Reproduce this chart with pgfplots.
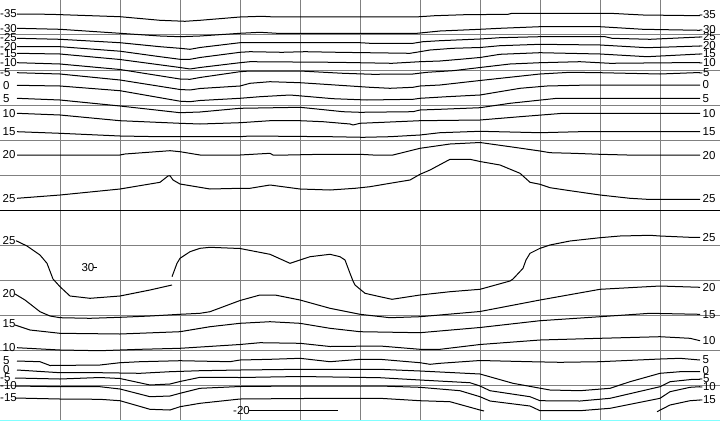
\documentclass[border=0pt]{standalone}
\usepackage{pgfplots}
\pgfplotsset{compat=1.18}
\usepackage{fontspec}
\setmainfont{Liberation Sans}
\definecolor{gridgray}{RGB}{128,128,128}
\definecolor{lcyan}{RGB}{128,255,255}
\tikzset{cl/.style={black, line width=1bp, line join=round},
  lab/.style={inner sep=0pt, font=\fontsize{11.5bp}{12bp}\selectfont}}
\begin{document}
\begin{tikzpicture}
\begin{axis}[scale only axis, width=720bp, height=421bp,
  xmin=0, xmax=720, ymin=0, ymax=421, y dir=reverse,
  axis line style={draw=none},
  xtick={60,120,180,240,300,360,420,480,540,600,660},
  ytick={35,70,105,140,175,245,280,315,350,385},
  xticklabels={}, yticklabels={}, major tick length=0pt,
  grid=major, grid style={gridgray, line width=1bp},
  clip=false]
% separators
\addplot[black, line width=1bp] coordinates {(0,210.5) (720,210.5)};
\addplot[lcyan, line width=1.5bp] coordinates {(0,420.5) (720,420.5)};
% ---------- top panel ----------
\addplot[cl] coordinates {(17,14) (50,14.3) (120,16.7) (160,20.3) (185,21.3) (200,20.3) (240,17) (262,16.3) (275,17) (415,17) (435,15.7) (465,14.7) (508,14.3) (512,13.3) (610,13.3) (643,15) (700,15.7)};
\addplot[cl] coordinates {(17,28.3) (60,29.3) (120,33.3) (160,36) (180,36.7) (200,36) (240,33.3) (260,32.3) (277,33.3) (417,33.3) (440,31) (480,29.3) (500,28.3) (540,26.7) (600,26.7) (643,29.3) (700,30.3)};
\addplot[cl] coordinates {(17,38.3) (60,39.3) (120,42.7) (160,46.7) (180,48.3) (190,49.3) (200,47.5) (240,42.7) (360,42.7) (370,43.3) (413,43.3) (423,41.7) (440,40.7) (480,39) (500,37.7) (540,36.7) (605,36.7) (612,38.3) (650,39.3) (700,37)};
\addplot[cl] coordinates {(17,46.7) (60,46.7) (120,51.2) (160,56.7) (180,59.3) (190,59.3) (200,57.5) (240,52.3) (250,51.7) (282,52.3) (305,51.7) (338,52.3) (410,53.3) (420,51.7) (430,50) (453,48.3) (480,47.5) (500,45.7) (540,44.3) (600,45) (647,47.7) (700,46)};
\addplot[cl] coordinates {(17,53.3) (60,54) (120,59.5) (180,67.5) (190,69) (200,67.5) (240,62.7) (250,61.7) (335,62.3) (392,63.3) (420,61.7) (440,61) (460,59.3) (480,57.5) (500,54.3) (540,52.7) (600,54) (647,56.7) (700,54)};
\addplot[cl] coordinates {(17,62.7) (60,64) (120,69.5) (180,79) (190,79.3) (200,77.5) (240,71.7) (250,71) (300,71) (343,73.3) (373,74.3) (413,74) (427,72.3) (453,70.7) (480,67.5) (510,64) (540,62.7) (580,61.7) (610,63.3) (700,62.5)};
\addplot[cl] coordinates {(17,72.7) (60,74) (120,80) (180,89.5) (190,90) (200,88.5) (240,86) (250,83.3) (270,81.7) (300,82.7) (320,84) (370,87.3) (390,88.3) (413,87.3) (420,86) (440,85) (480,80.5) (540,74) (570,72.3) (600,72.7) (660,74) (700,72.5)};
\addplot[cl] coordinates {(17,85.3) (60,86) (120,90.7) (180,101.2) (190,101.7) (200,100.5) (240,98.3) (260,96.7) (290,95) (310,96.7) (333,98.7) (367,100) (413,99.3) (420,98.3) (447,96.7) (480,95) (520,88.3) (547,86) (590,85) (700,85)};
\addplot[cl] coordinates {(17,98.3) (60,100) (120,106) (180,112.7) (200,112) (240,108.3) (300,107.3) (310,108.3) (343,111.7) (360,112.3) (413,111.7) (420,110) (440,109.3) (480,107.7) (510,103.3) (557,98.3) (700,98.3)};
\addplot[cl] coordinates {(17,113.3) (60,115) (120,120.7) (180,123.3) (200,124) (240,122.7) (270,120.7) (300,120.7) (323,121.7) (350,124) (353,125) (360,123.3) (420,120.7) (480,120) (520,116.7) (563,113.3) (700,113.3)};
\addplot[cl] coordinates {(17,131.7) (60,133.3) (120,136) (160,136.7) (240,136.7) (250,136) (330,136.7) (363,137.3) (390,136.7) (420,135) (440,132.7) (480,131.3) (540,132.7) (580,131.7) (700,131.7)};
\addplot[cl] coordinates {(17,155) (120,155) (125,154) (170,150.7) (180,151.7) (200,155) (240,155) (270,153.3) (273,155) (288,155) (322,154.3) (360,154.3) (373,155) (393,155) (420,148.3) (450,144) (480,142.5) (510,146.7) (540,151) (550,152.7) (573,153.3) (600,154.3) (627,155) (700,155)};
\addplot[cl] coordinates {(17,198.3) (60,195) (120,189) (160,182.3) (168,176) (170,175.7) (173,180) (180,184) (210,189) (240,188.3) (250,188.3) (270,185) (300,189) (330,190) (355,188.3) (370,186.7) (390,183.3) (410,180) (420,174.3) (430,170) (450,159.3) (470,159.3) (480,161.5) (500,165) (520,173.3) (530,182.3) (540,184.3) (550,187.7) (570,190.7) (600,195) (630,198.3) (647,199.3) (700,199.3)};
% ---------- bottom panel ----------
\addplot[cl] coordinates {(16,240.7) (27,246) (40,255) (47,263.3) (53,279) (60,286.7) (70,296) (90,298.3) (120,296) (150,290) (172,285)};
\addplot[cl] coordinates {(172,276.7) (177,263.3) (180,258.3) (190,251.7) (200,248.3) (210,247.3) (240,248.5) (270,254.3) (290,263.3) (300,260) (310,256.7) (330,254.3) (340,256.7) (345,260) (350,273.3) (353,281) (355,285) (365,293.3) (380,296.7) (392,299.3) (420,295) (450,291.7) (480,289.3) (510,281) (513,279) (523,268.3) (526,260) (530,253.3) (540,248.3) (550,245) (570,241) (600,237.7) (620,236) (650,235.3) (660,236) (690,237.3) (700,237.3)};
\addplot[cl] coordinates {(15,294) (25,300) (40,311.7) (50,316) (60,317.7) (90,318.3) (120,317.3) (150,316) (180,314.3) (200,313.3) (210,311.7) (240,300.5) (260,295) (275,295) (300,300) (330,308.3) (360,314.3) (390,317.7) (420,316.7) (480,311.5) (540,300) (600,289.3) (660,286) (700,287.3)};
\addplot[cl] coordinates {(15,325) (30,330) (60,333.3) (120,334) (180,331.7) (210,326.7) (240,323.3) (270,321.7) (300,323.3) (330,328.3) (360,331.7) (420,332.7) (480,327.5) (540,320.7) (600,316.7) (650,313.3) (700,314.3)};
\addplot[cl] coordinates {(17,347.7) (60,350) (100,350.7) (140,349.3) (180,348.3) (240,344.5) (260,342.7) (300,343.3) (330,346.5) (380,346) (420,349.3) (440,349.3) (480,344.5) (540,340) (600,338.3) (660,336.7) (690,338.3) (700,340.7)};
\addplot[cl] coordinates {(17,361) (40,361.7) (50,365.5) (100,365) (120,362.7) (140,361.7) (180,360.7) (230,361.7) (240,360) (270,359.3) (300,358.3) (330,361.7) (360,359.3) (380,359.3) (420,362.7) (430,364.3) (440,363.3) (480,360.5) (530,361.7) (560,362.3) (600,361.7) (660,359) (680,358.3) (700,360)};
\addplot[cl] coordinates {(17,370) (60,372.7) (100,372.7) (140,373.3) (170,371.7) (200,370.7) (240,370) (300,369.3) (380,369.3) (420,371) (480,374) (513,383.3) (550,390) (580,390.7) (610,388.3) (630,381.7) (660,373.3) (680,371.7) (700,371.7)};
\addplot[cl] coordinates {(15,378) (60,379) (100,377.5) (120,378.5) (150,385) (170,384) (180,381.5) (200,377.3) (240,377.5) (300,376.5) (380,377.7) (420,380) (470,382.7) (480,386) (490,390.7) (530,396.7) (540,400.7) (580,401) (610,398.3) (660,386.7) (670,381.7) (693,379.3) (700,379.3)};
\addplot[cl] coordinates {(15,386) (60,386.7) (100,386.7) (120,389) (150,396.7) (170,396) (180,393.3) (200,388.3) (240,386.5) (300,386) (380,386) (420,387.3) (460,390.7) (480,396.7) (490,401) (530,406) (540,410.7) (580,410.7) (610,408.3) (660,398.3) (670,391.7) (690,387.3) (700,386.7)};
\addplot[cl] coordinates {(15,398) (60,399) (100,399.3) (120,400.7) (150,409.3) (170,410) (180,406.7) (200,403.3) (240,399) (300,398.5) (380,398.3) (420,400.7) (450,401.7) (480,410) (484,411)};
\addplot[cl] coordinates {(657,411.7) (670,405) (690,400.7) (700,400)};
\addplot[cl] coordinates {(249,410.7) (338,410.7)};
\addplot[cl] coordinates {(93,267.7) (97,267.7)};
% ---------- labels ----------
% top left
\node[lab,anchor=west] at (axis cs:0,14) {-35};
\node[lab,anchor=west] at (axis cs:0,28.3) {-30};
\node[lab,anchor=west] at (axis cs:0,37.8) {-25};
\node[lab,anchor=west] at (axis cs:0,46.5) {-20};
\node[lab,anchor=west] at (axis cs:0,53.5) {-15};
\node[lab,anchor=west] at (axis cs:0,62.7) {-10};
\node[lab,anchor=west] at (axis cs:0,72.5) {-5};
\node[lab,anchor=west] at (axis cs:3,85.3) {0};
\node[lab,anchor=west] at (axis cs:3,98.3) {5};
\node[lab,anchor=west] at (axis cs:2.5,113.3) {10};
\node[lab,anchor=west] at (axis cs:2.5,131.7) {15};
\node[lab,anchor=west] at (axis cs:2.5,155) {20};
\node[lab,anchor=west] at (axis cs:2.5,198.3) {25};
% top right
\node[lab,anchor=west] at (axis cs:699,14.5) {-35};
\node[lab,anchor=west] at (axis cs:699,29.3) {-30};
\node[lab,anchor=west] at (axis cs:699,36.5) {-25};
\node[lab,anchor=west] at (axis cs:699,45.5) {-20};
\node[lab,anchor=west] at (axis cs:699,53.5) {-15};
\node[lab,anchor=west] at (axis cs:699,62.3) {-10};
\node[lab,anchor=west] at (axis cs:699,72.5) {-5};
\node[lab,anchor=west] at (axis cs:702.5,85) {0};
\node[lab,anchor=west] at (axis cs:702.5,98.3) {5};
\node[lab,anchor=west] at (axis cs:702.5,113.3) {10};
\node[lab,anchor=west] at (axis cs:702.5,131.7) {15};
\node[lab,anchor=west] at (axis cs:702.5,155.3) {20};
\node[lab,anchor=west] at (axis cs:702.5,198.7) {25};
% bottom left
\node[lab,anchor=west] at (axis cs:2.5,240.5) {25};
\node[lab,anchor=west] at (axis cs:2.5,294) {20};
\node[lab,anchor=west] at (axis cs:2.5,323.3) {15};
\node[lab,anchor=west] at (axis cs:2.5,347.5) {10};
\node[lab,anchor=west] at (axis cs:3,361) {5};
\node[lab,anchor=west] at (axis cs:3,369.5) {0};
\node[lab,anchor=west] at (axis cs:0,378) {-5};
\node[lab,anchor=west] at (axis cs:0,386) {-10};
\node[lab,anchor=west] at (axis cs:0,398) {-15};
% bottom right
\node[lab,anchor=west] at (axis cs:702.5,237.5) {25};
\node[lab,anchor=west] at (axis cs:702.5,287.3) {20};
\node[lab,anchor=west] at (axis cs:702.5,314.3) {15};
\node[lab,anchor=west] at (axis cs:702.5,340.5) {10};
\node[lab,anchor=west] at (axis cs:702.5,360) {5};
\node[lab,anchor=west] at (axis cs:702.5,370.5) {0};
\node[lab,anchor=west] at (axis cs:699,379) {-5};
\node[lab,anchor=west] at (axis cs:699,387) {-10};
\node[lab,anchor=west] at (axis cs:699,400) {-15};
% inner labels
\node[lab] at (axis cs:88,267.7) {30};
\node[lab,anchor=west] at (axis cs:233,411) {-20};
\end{axis}
\pgfresetboundingbox
\path (current axis.south west) rectangle (current axis.north east);
\end{tikzpicture}
\end{document}
